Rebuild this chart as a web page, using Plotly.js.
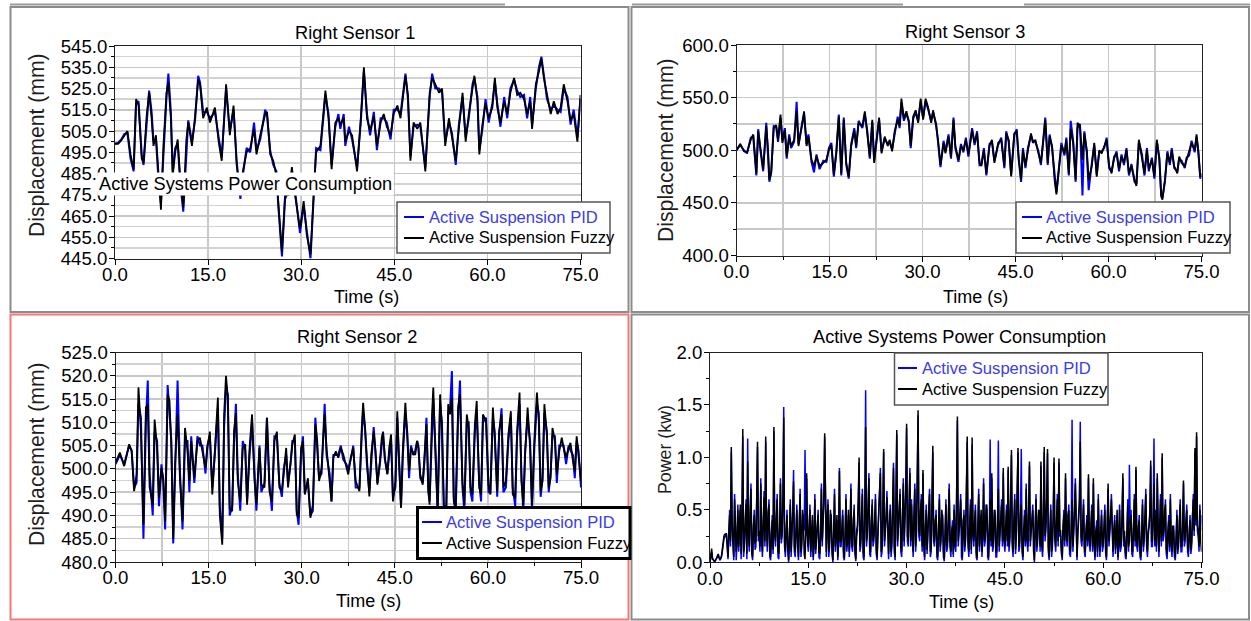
<!DOCTYPE html>
<html>
<head>
<meta charset="utf-8">
<script src="https://cdn.plot.ly/plotly-3.0.1.min.js"></script>
<style>html,body{margin:0;padding:0;background:#fff;}#chart{width:1251px;height:621px;}</style>
</head>
<body>
<div id="chart"></div>
<script>
// ---------- Right Sensor 1 ----------
const t1 = [0,0.5,1,1.5,2,2.5,3,3.4,3.8,4.3,4.6,5.1,5.5,5.9,6.2,6.6,7,7.4,7.8,8.3,8.6,9,9.3,9.7,10.1,10.5,11,11.5,11.8,12.4,12.9,13.4,13.7,14.2,14.8,15.3,16.1,16.7,17.2,17.9,18.5,19.1,19.6,20.2,20.6,21.2,21.8,22.4,22.8,23.4,24.2,24.5,25,25.5,26,26.3,26.9,27.4,28,28.5,29,29.8,30.4,30.9,31.5,32,32.4,33.1,33.9,34.4,34.9,35.5,36,36.3,36.85,37.1,37.7,38.2,39,39.6,40.1,40.6,41.1,41.7,42.2,42.8,43.3,43.8,44.4,44.9,45.5,46,46.8,47.2,47.6,48.1,48.7,49.2,50,50.7,51.1,51.6,52.2,52.7,53.2,53.8,54.3,54.9,55.4,56,56.5,57,57.6,57.9,58.4,58.7,59.2,59.7,60.2,60.8,61.2,61.6,62.1,62.7,63.2,63.7,64.3,64.8,65.3,65.9,66.4,66.9,67.2,67.8,68.3,68.7,69.1,69.6,70.2,70.7,71.3,71.8,72.3,72.9,73.4,73.9,74.5,75];
const fuzzy1 = [499,499,500.5,503,505,494,487,520,517,492,490,512,523,511,498,503,484,468,498,523,528,511,484,495,501,483,469,501,509,498,512,529,527,511,516,509,516,500,491,527,503,517,489,475,486,495,497,506,494,503,513,514,494,491,484,472,448,475,475,488,475,459,472,456,447,475,495,498,524,511,487,509,511,508,511,500,505,503,486,511,535,511,505,512,498,509,513,507,503,513,517,511,531,522,491,509,506,509,486,523,530,527,523,525,498,511,502,491,506,523,500,513,525,531,519,494,508,518,511,516,530,516,509,519,513,523,530,522,523,520,513,519,506,527,533,539,530,522,513,519,513,516,527,519,510,513,500,522];
const pid1 = [499,499.5,501,503.5,504,492,486,518,519,494,489,510,524,514,500,501,482,471,495,521,532,514,486,497,499,481,467,498,510,500,510,531,528,514,514,511,514,502,493,525,505,515,491,473,484,497,495,509,496,501,515,512,496,489,486,470,446,473,477,486,477,457,470,458,445,473,497,496,522,513,489,507,513,506,513,498,507,501,488,509,533,513,503,514,496,511,511,509,501,515,515,513,532,520,493,507,508,507,488,521,532,525,525,523,500,509,504,489,508,521,502,511,527,530,521,496,506,520,509,518,528,518,507,521,511,525,529,524,521,522,511,521,508,525,535,540,532,520,515,517,515,514,525,521,508,515,502,520];

// ---------- Right Sensor 3 ----------
const t3 = [0,0.6,1.2,1.7,2.3,2.7,3.2,3.5,3.9,4.3,4.8,5.1,5.3,5.6,6,6.4,6.7,7.1,7.4,7.8,8.1,8.5,8.8,9.3,9.7,10,10.5,10.9,11.3,11.6,12.1,12.5,12.9,13.4,14,14.5,14.9,15.3,15.7,16.1,16.5,16.9,17.3,17.7,18.1,18.5,19,19.3,19.7,20.3,20.7,21.1,21.5,21.9,22.2,22.6,23,23.4,23.9,24.4,24.7,25.1,25.5,26,26.3,26.6,27,27.4,27.8,28.1,28.5,28.9,29.3,29.7,30.1,30.5,30.9,31.4,31.7,32.2,32.5,32.9,33.4,33.7,34.2,34.6,35,35.3,35.8,36.2,36.6,37,37.4,
38,38.4,38.8,39.2,39.5,39.9,40.3,40.8,41.2,41.6,42.2,42.7,43.2,43.5,43.9,44.3,44.8,45.2,45.5,45.9,46.2,46.6,47,47.5,47.8,48.2,48.7,49.1,49.5,49.8,50.2,50.5,50.9,51.3,51.6,52,52.4,52.9,53.2,53.6,53.9,54.3,54.7,55,55.4,55.8,56.1,56.5,56.8,57.3,57.7,58.1,58.5,58.9,59.3,59.7,60.1,60.5,60.9,61.3,61.7,62.1,62.5,62.9,63.3,63.7,64.2,64.5,64.9,65.4,65.8,66.2,66.5,67,67.4,67.8,68.2,68.5,68.7,69.1,69.5,69.9,70.2,70.6,71.1,71.4,71.8,72.3,72.6,73,73.4,73.9,74.2,74.5,74.8,75];
const fuzzy3 = [500,506,499,498,510,515,478,518,500,482,523,500,472,478,521,524,510,534,507,519,494,513,504,510,537,504,523,537,504,513,491,485,494,485,488,491,500,505,477,497,532,478,529,488,475,504,519,504,526,523,537,516,494,529,488,510,531,497,513,504,510,499,518,529,523,549,530,537,526,504,532,538,526,549,529,549,541,526,538,523,510,486,507,497,513,494,529,504,491,504,500,510,496,
519,507,516,488,485,500,478,504,510,488,507,510,485,516,510,475,516,518,494,472,500,485,500,516,507,510,497,488,510,529,488,513,504,472,458,485,505,497,510,478,520,507,472,526,523,491,516,500,472,485,507,475,500,497,504,510,485,478,494,497,482,494,488,500,478,485,472,466,510,494,478,500,482,491,475,510,491,456,453,472,497,488,500,485,478,494,488,485,491,497,507,500,515,497,475,478];
const pid3 = [500,505,500,497,512,513,476,520,498,480,526,498,470,480,523,522,508,531,509,521,492,515,502,508,546,506,521,534,506,515,489,479,496,482,490,489,502,507,475,499,534,476,531,486,473,506,521,502,528,521,534,518,492,527,490,512,529,499,511,506,508,501,516,532,521,545,528,535,528,502,530,536,528,546,531,547,539,528,536,525,508,484,509,499,515,492,531,502,489,506,498,512,494,
521,505,518,486,487,502,476,506,508,490,505,512,483,518,508,477,514,520,492,470,502,483,502,514,509,508,499,486,512,531,486,515,502,474,460,483,507,495,512,476,528,509,470,521,525,457,518,498,462,487,505,477,498,499,502,512,483,480,492,499,480,496,486,502,476,487,470,468,508,496,476,502,480,493,473,508,493,458,455,470,499,486,502,483,480,492,490,483,493,495,509,498,513,499,473,476];

// ---------- Right Sensor 2 ----------
const t2 = [0,0.7,1.4,2.2,2.6,3,3.4,3.7,4.1,4.5,4.9,5.2,5.5,6,6.3,6.7,7,7.4,7.7,8,8.4,8.7,9,9.3,9.6,10,10.4,10.8,11.2,11.6,11.9,12.2,12.7,13.2,13.6,14,14.5,14.8,15.2,15.6,16,16.5,16.8,17.2,17.5,17.8,18.1,18.4,18.8,19.1,19.4,19.7,20.1,20.5,20.9,21.2,21.6,22,22.4,22.7,23.2,23.5,24,24.4,24.8,25.2,25.6,26,26.4,26.8,27.1,27.5,27.8,28.2,28.5,28.9,29.2,29.5,29.9,30.2,30.5,31,31.4,31.8,32.2,32.5,32.8,33.2,33.7,34,34.5,34.8,35.1,35.5,35.9,36.3,36.7,37.2,
37.5,37.9,38.3,38.7,39.3,39.7,39.9,40.2,40.5,40.9,41.2,41.6,41.9,42.2,42.6,42.9,43.1,43.4,43.8,44.1,44.4,44.7,45.1,45.4,45.7,46,46.3,46.7,47,47.3,47.6,48,48.3,48.6,48.8,49.1,49.5,49.8,50.1,50.4,50.6,51,51.2,51.6,51.9,52.3,52.6,52.9,53.3,53.6,53.9,54.2,54.5,54.8,55.2,55.5,55.9,56.2,56.6,56.9,57.2,57.5,57.9,58.2,58.6,58.9,59.2,59.7,60.1,60.4,60.8,61.1,61.5,61.8,62.2,62.5,62.9,63.3,63.7,64,64.4,64.7,65.1,65.4,65.7,66,66.4,66.8,67.1,67.5,67.9,68.2,68.5,68.8,69.1,69.5,69.8,70.1,70.4,70.8,71.1,71.5,71.9,72.2,72.6,73,73.3,73.7,74,74.3,74.6,75];
const fuzzy2 = [501.3,503.5,500.6,505.3,503.8,495.2,498.8,517.5,508,488,513.2,513.9,496,492.3,510.6,504.5,493.8,500.2,498,488.7,516,514.6,504.5,485,501,511.7,497.4,488.7,508.8,503.8,497.4,506,498,506,506.7,503.8,500.2,504.5,508,494.5,504.5,515.3,490.2,483.7,511.7,520,515.3,491.6,490.9,508,512,497.4,493,504.5,505.3,492.3,504.5,511.7,497.4,492.3,504.5,496.6,496,511,495.2,493,506,508,496,495.2,498.8,504.5,496,502.4,505.3,507.4,490.2,489.5,504.5,506,494.5,498,489.5,492.3,509.6,506,497.4,500.2,511.7,504.5,498,493,502.4,503.8,502.4,504.5,503.1,500.2,
498.8,502.4,504.5,497.4,495.2,509.6,514.2,508.8,502.4,494.1,503.1,508,503.8,496.6,501.7,506.7,507.8,502.4,498.8,504.5,507.4,493,497.4,512.4,501,491.6,504.5,514.2,507.4,499.5,504.5,503.1,503.1,506,504.5,498.8,496.6,503.1,509.6,496,492.3,511.7,517.5,501,491.6,516,508,492.3,491.6,513.9,511.7,515.3,493,491.6,513.2,516,497.4,492.3,511.7,508.8,496,494.5,509.6,514.6,496,494.5,511.7,510.3,496.6,494.5,513.2,506.7,495.2,508,511.7,496,497.4,507.4,512.4,494.5,493.8,508,516.4,497.4,492.3,503.1,513.2,504.5,492.3,506.7,516.4,510.3,495.2,497.4,513.9,507.4,496,498,508.8,506,498.8,503.8,506.7,504.5,502.4,504.5,505.6,501.7,499.5,507,503.1,497.4];
const pid2 = [501,503,501,505,504,496,497,514,511,485,510,519,499,490,508,506,492,501,497,487,518,512,506,484,499,519,499,487,506,506,495,507,497,507,505,505,499,505,507,496,503,513,492,485,509,517,516,490,492,506,514,499,491,506,504,493,503,510,499,491,505,495,497,511,497,491,507,507,497,494,500,503,497,501,506,506,491,488,503,507,495,497,490,491,511,505,498,499,514,503,499,493,503,503,503,505,502,501,
500,502,505,496,496,508,512,509,501,495,502,509,503,497,501,505,508,502,499,503,506,494,496,511,502,492,503,512,508,498,505,503,504,506,505,498,497,502,511,495,493,510,515,503,490,514,510,491,492,512,513,521,494,490,511,519,496,491,510,510,495,493,508,512,497,493,510,511,495,495,511,508,494,507,513,495,496,506,511,496,492,507,514,499,491,504,511,506,491,505,514,512,494,498,512,508,495,499,507,507,497,505,505,505,501,505,504,503,498,506,504,496];

// ---------- Active Systems Power Consumption (sampled every 0.125 s) ----------
const powerStep = 0.125;
const fuzzyP = [
0,0.05,0.13,0.04,0.02,0.01,0.01,0.02,0.04,0.06,0.08,0.05,0.03,0.04,0.06,0.12,0.2,0.25,0.27,0.26,
0.28,0.12,0.05,0.3,0.45,0.2,1.1,0.4,0.25,0.05,0.6,0.35,0.1,0.22,0.5,0.15,0.3,0.55,0.08,0.4,
1.27,0.1,0.2,0.45,0.55,0.08,0.96,0.3,0.15,0.5,0.7,0.12,0.05,0.35,0.45,0.18,0.2,0.6,1.15,0.25,
0.3,0.15,0.75,0.25,0.1,0.4,0.62,0.2,1.2,0.35,0.15,0.48,0.55,0.1,0.05,0.3,0.4,0.12,1.29,0.3,
0.2,0.42,0.6,0.1,0.08,0.35,0.75,0.22,0.3,0.6,1.38,0.2,0.1,0.3,0.45,0.15,0.02,0.25,0.55,0.1,
0.25,0.5,0.77,0.15,0.1,0.3,0.5,0.2,0.05,0.38,0.65,0.1,0.2,0.5,0.4,0.08,0.03,0.3,0.85,0.25,
0.15,0.35,0.5,0.1,0.3,0.45,0.05,0.2,0.6,0.12,0.25,0.4,0.45,0.1,0.08,0.3,0.7,0.2,0.35,0.6,
1.23,0.3,0.1,0.4,0.55,0.1,0.2,0.5,0.4,0.12,0.02,0.3,0.65,0.15,0.3,0.45,0.05,0.25,0.87,0.2,
0.2,0.35,0.45,0.1,0.04,0.3,0.6,0.15,0.25,0.5,0.1,0.3,0.7,0.2,0.15,0.4,0.5,0.12,0.03,0.3,
0.35,0.6,1.0,0.15,0.2,0.45,0.65,0.1,0.05,0.5,1.29,0.2,0.3,0.55,0.8,0.12,0.1,0.4,0.55,0.2,
0.25,0.4,0.6,0.12,0.05,0.3,0.45,0.6,0.85,0.1,0.15,0.5,1.08,0.2,0.3,0.45,0.62,0.15,0.08,0.35,
0.5,0.1,0.2,0.55,0.9,0.15,0.05,0.6,1.26,0.2,0.35,0.5,0.65,0.15,0.1,0.45,0.75,0.2,0.4,0.7,
1.32,0.25,0.2,0.6,0.85,0.2,0.55,0.3,0.1,0.45,0.7,0.15,0.3,0.8,1.45,0.3,0.25,0.5,0.6,0.15,
0.88,0.2,0.05,0.35,0.5,0.12,0.3,0.55,0.65,0.1,0.15,0.6,1.11,0.25,0.2,0.4,0.45,0.1,0.05,0.35,
0.6,0.15,0.25,0.5,0.4,0.1,0.03,0.3,0.55,0.15,0.2,0.45,0.7,0.2,0.1,0.3,0.35,0.08,0.5,0.2,
0.15,0.6,1.39,0.2,0.3,0.45,0.6,0.1,0.05,0.4,0.45,0.15,0.25,0.7,1.2,0.2,0.1,0.35,0.55,0.12,
1.19,0.3,0.2,0.4,0.5,0.1,0.04,0.35,0.65,0.15,0.3,0.5,0.1,0.3,0.75,0.2,0.25,0.55,0.5,0.1,
0.05,0.3,0.6,0.2,0.85,0.15,0.2,0.5,0.45,0.1,0.1,0.4,0.7,0.15,0.3,0.45,0.55,0.2,0.9,0.25,
0.15,0.35,0.5,0.2,0.91,0.15,0.25,0.6,1.07,0.2,0.1,0.4,0.6,0.12,0.3,0.7,1.09,0.15,0.2,0.45,
0.55,0.15,0.05,0.3,0.45,0.2,0.7,0.25,0.15,0.5,0.96,0.2,0.3,0.45,0.5,0.1,0.02,0.35,0.6,0.15,
0.25,0.5,0.45,0.15,0.96,0.2,0.1,0.5,1.1,0.25,0.35,0.6,1.08,0.15,0.05,0.3,0.5,0.1,0.2,0.45,
1.0,0.25,0.15,0.4,0.6,0.2,0.99,0.3,0.3,0.12,0.05,0.35,0.45,0.2,0.85,0.3,0.2,0.45,0.5,0.12,
0.1,0.35,0.6,0.15,0.3,0.5,0.75,0.2,0.05,0.3,0.45,0.6,1.15,0.25,0.2,0.4,0.55,0.15,0.1,0.3,
0.4,0.2,0.84,0.25,0.15,0.35,0.5,0.15,0.8,0.2,0.05,0.3,0.35,0.1,0.6,0.25,0.1,0.3,0.45,0.15,
0.2,0.35,0.5,0.12,0.05,0.4,0.75,0.2,0.3,0.45,0.6,0.15,0.1,0.3,0.4,0.12,0.25,0.5,0.05,0.2,
0.5,0.15,0.2,0.45,0.85,0.2,0.3,0.1,0.06,0.3,0.55,0.15,0.2,0.4,0.45,0.12,0.1,0.35,0.6,0.2,
0.91,0.2,0.15,0.35,0.4,0.1,0.05,0.3,0.55,0.15,0.25,0.45,0.65,0.2,0.1,0.3,0.35,0.5,0.97,0.2,
0.2,0.45,0.75,0.2,0.45,0.15,0.85,0.3,0.1,0.35,0.6,0.2,1.04,0.25,0.3,0.5,0.55,0.12,0.08,0.3,
0.4,0.15,0.6,0.2,0.1,0.35,0.3,0.1,0.05,0.25,0.45,0.12,0.2,0.4,0.55,0.15,0.15,0.35,0.78,0.2,
0.25,0.4,0.5,0.15,0.1,0.3,0.4,0.12,0.2,0.45,0.6,0.3,1.09,0.4,1.24,0.35,0.3,0.15,0.5,0.2,
0.1];
const pidP = [
0,0.04,0.1,0.03,0.02,0.01,0.01,0.02,0.03,0.05,0.07,0.04,0.02,0.03,0.05,0.1,0.18,0.22,0.25,0.24,
0.27,0.08,0.03,0.25,0.5,0.15,1.05,0.3,0.2,0.02,0.65,0.3,0.02,0.18,0.55,0.1,0.25,0.5,0.03,0.35,
1.2,0.05,0.15,0.4,0.6,0.03,1.18,0.25,0.1,0.45,0.75,0.08,0.02,0.3,0.5,0.12,0.15,0.55,1.1,0.2,
0.25,0.1,0.8,0.2,0.05,0.35,0.68,0.15,1.15,0.3,0.1,0.42,0.6,0.05,0.02,0.25,0.45,0.08,1.25,0.25,
0.15,0.38,0.65,0.05,0.03,0.3,0.8,0.18,0.25,0.55,1.48,0.15,0.05,0.25,0.5,0.1,0.0,0.2,0.6,0.05,
0.2,0.45,0.88,0.1,0.05,0.25,0.55,0.15,0.02,0.33,0.7,0.05,0.15,0.45,0.45,0.3,1.07,0.25,0.8,0.2,
0.1,0.3,0.55,0.05,0.25,0.4,0.02,0.15,0.65,0.08,0.2,0.35,0.5,0.05,0.03,0.25,0.75,0.15,0.3,0.55,
1.2,0.25,0.05,0.35,0.6,0.05,0.15,0.45,0.45,0.08,0.0,0.25,0.7,0.1,0.25,0.4,0.02,0.2,0.9,0.15,
0.15,0.3,0.5,0.05,0.02,0.25,0.65,0.1,0.2,0.45,0.05,0.25,0.75,0.15,0.1,0.35,0.55,0.08,0.01,0.25,
0.3,0.55,0.95,0.1,0.15,0.4,0.7,0.05,0.02,0.45,1.64,0.15,0.25,0.5,0.85,0.08,0.05,0.35,0.6,0.15,
0.2,0.35,0.65,0.08,0.02,0.25,0.5,0.55,0.9,0.05,0.1,0.45,1.05,0.15,0.25,0.4,0.68,0.1,0.03,0.3,
0.55,0.05,0.15,0.5,0.95,0.1,0.02,0.55,1.22,0.15,0.3,0.45,0.7,0.1,0.05,0.4,0.8,0.15,0.35,0.65,
1.28,0.2,0.15,0.55,0.9,0.15,0.6,0.25,0.05,0.4,0.75,0.1,0.25,0.75,1.4,0.25,0.2,0.45,0.65,0.1,
0.85,0.15,0.02,0.3,0.55,0.08,0.25,0.5,0.7,0.05,0.1,0.55,1.05,0.2,0.15,0.35,0.5,0.05,0.02,0.3,
0.65,0.1,0.2,0.45,0.45,0.05,0.01,0.25,0.6,0.1,0.15,0.4,0.75,0.15,0.05,0.25,0.4,0.05,0.55,0.15,
0.1,0.55,1.35,0.15,0.25,0.4,0.65,0.05,0.02,0.35,0.5,0.1,0.2,0.65,1.15,0.15,0.05,0.3,0.6,0.08,
1.12,0.25,0.15,0.35,0.55,0.05,0.02,0.3,0.7,0.1,0.25,0.45,0.05,0.25,0.8,0.15,0.2,0.5,0.55,0.05,
0.02,0.25,1.17,0.15,0.8,0.1,0.15,0.45,0.5,0.05,0.05,0.35,1.16,0.1,0.25,0.4,0.6,0.15,0.85,0.2,
0.1,0.3,0.55,0.15,0.88,0.1,0.2,0.55,1.02,0.15,0.05,0.35,0.65,0.08,0.25,0.65,1.05,0.1,0.15,0.4,
1.08,0.1,0.02,0.25,0.5,0.15,0.75,0.2,0.1,0.45,0.92,0.15,0.25,0.4,0.55,0.05,0.0,0.3,0.65,0.1,
0.2,0.45,0.5,0.1,0.92,0.15,0.05,0.45,1.05,0.2,0.3,0.55,1.04,0.1,0.02,0.25,0.55,0.05,0.15,0.4,
0.95,0.2,0.1,0.35,0.65,0.15,0.95,0.25,0.25,0.08,0.02,0.3,0.5,0.15,0.8,0.25,0.15,0.4,0.55,0.08,
0.05,0.3,1.36,0.1,0.25,0.45,0.8,0.15,0.02,0.25,0.5,0.55,1.34,0.2,0.15,0.35,0.6,0.1,0.05,0.25,
0.45,0.15,0.8,0.2,0.1,0.3,0.55,0.1,0.75,0.15,0.02,0.25,0.4,0.05,0.65,0.2,0.05,0.25,0.5,0.1,
0.15,0.3,0.55,0.08,0.02,0.35,0.7,0.15,0.25,0.4,0.65,0.1,0.05,0.25,0.45,0.08,0.2,0.45,0.02,0.15,
0.55,0.1,0.15,0.4,0.8,0.15,0.25,0.05,0.03,0.25,0.6,0.1,0.93,0.35,0.5,0.08,0.05,0.3,0.65,0.15,
0.88,0.15,0.1,0.3,0.45,0.05,0.02,0.25,0.6,0.1,0.2,0.4,0.7,0.15,0.05,0.25,0.4,0.45,0.92,0.15,
0.15,0.4,1.18,0.15,0.5,0.1,0.8,0.25,0.05,0.3,0.65,0.15,1.0,0.2,0.25,0.45,0.6,0.08,0.03,0.25,
0.45,0.1,0.65,0.15,0.05,0.3,0.35,0.05,0.02,0.2,0.5,0.08,0.15,0.35,0.6,0.1,0.1,0.3,0.75,0.15,
0.2,0.35,0.55,0.1,0.05,0.25,0.45,0.08,0.15,0.4,0.65,0.25,1.05,0.35,1.2,0.3,0.25,0.1,0.55,0.3,
0.45];
const tPpid = pidP.map((_, i) => i * powerStep);
const tPfuzzy = fuzzyP.map((_, i) => i * powerStep);

const seriesNames = ['Active Suspension PID', 'Active Suspension Fuzzy'];
const panelTitles = ['Right Sensor 1', 'Right Sensor 3', 'Right Sensor 2', 'Active Systems Power Consumption'];
const xTitle = 'Time (s)';
const yTitleDisp = 'Displacement (mm)';
const yTitlePower = 'Power (kw)';
const overlayText = 'Active Systems Power Consumption';

// ---------- drawing ----------
const W = 1251, H = 621;
const FONT = '"Liberation Sans", Arial, sans-serif';
const BLUE = '#0000ff', BLACK = '#000000';
const X = px => px / W;
const Y = py => 1 - py / H;

function tr(x, y, color, w, ax) {
  return { x, y, type: 'scatter', mode: 'lines', line: { color, width: w }, xaxis: 'x' + ax, yaxis: 'y' + ax, showlegend: false, hoverinfo: 'skip' };
}
const data = [
  tr(t1, pid1, BLUE, 2, ''), tr(t1, fuzzy1, BLACK, 1.8, ''),
  tr(t3, pid3, BLUE, 2, '2'), tr(t3, fuzzy3, BLACK, 1.8, '2'),
  tr(t2, pid2, BLUE, 2, '3'), tr(t2, fuzzy2, BLACK, 1.8, '3'),
  tr(tPpid, pidP, BLUE, 1.5, '4'), tr(tPfuzzy, fuzzyP, BLACK, 1.5, '4')
];

const tickFont = { family: FONT, size: 18.6, color: '#000' };
function axis(extra) {
  return Object.assign({
    showline: true, linecolor: '#222', linewidth: 1, mirror: true,
    ticks: 'outside', ticklen: 5, tickcolor: '#000', tickwidth: 1,
    tickfont: tickFont, zeroline: false, fixedrange: true, tickformat: '.1f',
    showgrid: true, gridcolor: '#c8c8c8', gridwidth: 1.5
  }, extra);
}
const xDom = (a, b) => [a / W, b / W];
const yDom = (top, bot) => [1 - bot / H, 1 - top / H];
const XS = -6, YS = -2;

const layout = {
  width: W, height: H,
  margin: { l: 0, r: 0, t: 0, b: 0 },
  paper_bgcolor: '#fff', plot_bgcolor: '#fff',
  showlegend: false,
  font: { family: FONT, color: '#000' },
  xaxis: axis({ domain: xDom(115, 580.5), anchor: 'y', range: [0, 75], tick0: 0, dtick: 15, ticklabelstandoff: XS }),
  yaxis: axis({ domain: yDom(46, 258.5), anchor: 'x', range: [445, 545], tick0: 445, dtick: 10, ticklabelstandoff: YS,
    minor: { dtick: 5, tick0: 445, ticks: 'outside', ticklen: 3, tickcolor: '#000', showgrid: true, gridcolor: '#d2d2d2', gridwidth: 1.5 } }),
  xaxis2: axis({ domain: xDom(736.5, 1201.5), anchor: 'y2', range: [0, 75], tick0: 0, dtick: 15, ticklabelstandoff: XS,
    minor: { dtick: 7.5, tick0: 0, ticks: 'outside', ticklen: 3, tickcolor: '#000', showgrid: true, gridcolor: '#c8c8c8', gridwidth: 1.5 } }),
  yaxis2: axis({ domain: yDom(45, 255.5), anchor: 'x2', range: [400, 600], tick0: 400, dtick: 50, ticklabelstandoff: YS,
    minor: { dtick: 25, tick0: 400, ticks: 'outside', ticklen: 3, tickcolor: '#000', showgrid: true, gridcolor: '#c8c8c8', gridwidth: 1.5 } }),
  xaxis3: axis({ domain: xDom(115.5, 581), anchor: 'y3', range: [0, 75], tick0: 0, dtick: 15, ticklabelstandoff: XS,
    minor: { dtick: 7.5, tick0: 0, ticks: 'outside', ticklen: 3, tickcolor: '#000', showgrid: true, gridcolor: '#c8c8c8', gridwidth: 1.5 } }),
  yaxis3: axis({ domain: yDom(352.5, 562), anchor: 'x3', range: [480, 525], tick0: 480, dtick: 5, ticklabelstandoff: YS,
    minor: { dtick: 2.5, tick0: 480, ticks: 'outside', ticklen: 3, tickcolor: '#000', showgrid: true, gridcolor: '#d2d2d2', gridwidth: 1.5 } }),
  xaxis4: axis({ domain: xDom(710, 1201.5), anchor: 'y4', range: [0, 75], tick0: 0, dtick: 15, showgrid: false, ticklabelstandoff: XS,
    minor: { dtick: 7.5, tick0: 0, ticks: 'outside', ticklen: 3, tickcolor: '#000', showgrid: false } }),
  yaxis4: axis({ domain: yDom(352.5, 562.3), anchor: 'x4', range: [0, 2], tick0: 0, dtick: 0.5, showgrid: false, ticklabelstandoff: YS,
    minor: { dtick: 0.25, tick0: 0, ticks: 'outside', ticklen: 3, tickcolor: '#000', showgrid: false } }),
  shapes: [],
  annotations: []
};

function rect(x0, y0, x1, y1, color, w, fill) {
  layout.shapes.push({ type: 'rect', xref: 'paper', yref: 'paper', x0: X(x0), x1: X(x1), y0: Y(y1), y1: Y(y0),
    line: { color, width: w }, fillcolor: fill || 'rgba(0,0,0,0)', layer: 'above' });
}
function hline(x0, x1, y, color, w) {
  layout.shapes.push({ type: 'line', xref: 'paper', yref: 'paper', x0: X(x0), x1: X(x1), y0: Y(y), y1: Y(y),
    line: { color, width: w }, layer: 'above' });
}
function text(t, px, py, opts) {
  layout.annotations.push(Object.assign({ text: t, x: X(px), y: Y(py), xref: 'paper', yref: 'paper', showarrow: false,
    xanchor: 'center', yanchor: 'middle', font: { family: FONT, size: 18.2, color: '#000' } }, opts || {}));
}

// window frames
hline(10, 505, 4.5, '#9a9a9a', 2);
hline(632, 903, 4.5, '#9a9a9a', 2);
hline(1024, 1250, 4.5, '#9a9a9a', 2);
rect(10.5, 7, 628.5, 312, '#8c8c8c', 2);
rect(631.5, 7, 1249, 312, '#8c8c8c', 2);
rect(631.5, 314.5, 1249, 619.5, '#8c8c8c', 2);
rect(10.5, 314.5, 628.5, 619.5, '#f07878', 2);

// legends
function legend(x0, y0, x1, y1, r1, r2, lx0, lx1, tx, bc, bw) {
  rect(x0, y0, x1, y1, bc, bw, '#ffffff');
  hline(lx0, lx1, r1, BLUE, 2);
  hline(lx0, lx1, r2, BLACK, 2);
  text(seriesNames[0], tx, r1, { xanchor: 'left', font: { family: FONT, size: 16.6, color: '#3c3ce6' } });
  text(seriesNames[1], tx, r2, { xanchor: 'left', font: { family: FONT, size: 16.6, color: '#000' } });
}
legend(397, 202, 610, 253, 217, 238, 404, 424, 427, '#555', 1.5);
legend(1016, 202, 1230, 253, 217, 238, 1022, 1042, 1044, '#555', 1.5);
legend(417.5, 507.5, 630, 558.5, 522, 543, 422, 442, 444, '#000', 3);
legend(894.5, 353, 1108, 405, 368, 389, 898, 917, 920, '#555', 1.5);

// titles
text(panelTitles[0], 355, 33);
text(panelTitles[1], 965, 32);
text(panelTitles[2], 357, 337);
text(panelTitles[3], 959, 337);
// axis titles
text(xTitle, 366, 297, { font: { family: FONT, size: 18, color: '#000' } });
text(xTitle, 975, 297, { font: { family: FONT, size: 18, color: '#000' } });
text(xTitle, 368, 601, { font: { family: FONT, size: 18, color: '#000' } });
text(xTitle, 961, 602, { font: { family: FONT, size: 18, color: '#000' } });
text(yTitleDisp, 37, 145, { textangle: -90, font: { family: FONT, size: 21.2, color: '#1e1e1e' } });
text(yTitleDisp, 666, 150, { textangle: -90, font: { family: FONT, size: 21.2, color: '#1e1e1e' } });
text(yTitleDisp, 37, 454, { textangle: -90, font: { family: FONT, size: 21.2, color: '#1e1e1e' } });
text(yTitlePower, 665, 449, { textangle: -90, font: { family: FONT, size: 17.8, color: '#1e1e1e' } });
// floating caption over the first panel
text(overlayText, 97, 183.5, { xanchor: 'left', bgcolor: '#ffffff', borderpad: 1, font: { family: FONT, size: 18.2, color: '#000' } });

Plotly.newPlot('chart', data, layout, { displayModeBar: false, staticPlot: true });
</script>
</body>
</html>
